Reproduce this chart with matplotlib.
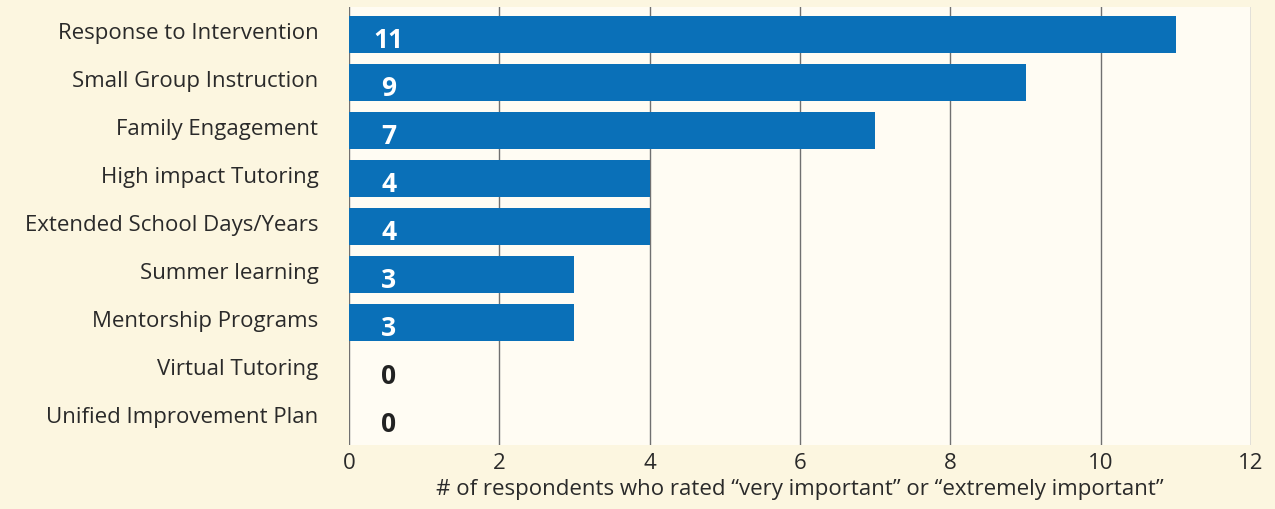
import matplotlib
matplotlib.use("Agg")
import matplotlib.pyplot as plt
import matplotlib.transforms as mtransforms

categories = ["Response to Intervention", "Small Group Instruction", "Family Engagement",
              "High impact Tutoring", "Extended School Days/Years", "Summer learning",
              "Mentorship Programs", "Virtual Tutoring", "Unified Improvement Plan"]
values = [11, 9, 7, 4, 4, 3, 3, 0, 0]
xticks = [0, 2, 4, 6, 8, 10, 12]

plt.rcParams['font.family'] = ['Open Sans', 'DejaVu Sans']

fig = plt.figure(figsize=(12.75, 5.1), dpi=100, facecolor="#fcf6e0")
ax = fig.add_axes([0.2737, 0.1255, 0.9812 - 0.2737, 0.984 - 0.1255])
ax.set_facecolor("#fffcf3")

y = list(range(len(categories)))
ax.barh(y, values, height=0.78, color="#0a70b8", zorder=3)
ax.set_ylim(8.55, -0.57)
ax.set_xlim(0, 12)
ax.set_xticks(xticks)
ax.set_xticklabels([str(t) for t in xticks])
ax.set_yticks(y)
ax.set_yticklabels(categories)
ax.grid(axis="x", color="#707070", linewidth=1.0, zorder=1)
for s in ax.spines.values():
    s.set_visible(False)
ax.tick_params(axis="both", length=0, labelsize=16, labelcolor="#2a2a2a")
ax.tick_params(axis="y", pad=22)
ax.tick_params(axis="x", pad=5)
off = mtransforms.ScaledTranslation(0, 5/100, fig.dpi_scale_trans)
for lab in ax.get_yticklabels():
    lab.set_transform(lab.get_transform() + off)

for yi, v in zip(y, values):
    ax.text(0.53, yi + 0.1, str(v), ha="center", va="center", fontsize=19,
            fontweight="bold", color="white" if v > 0 else "#222222", zorder=4)

ax.set_xlabel("# of respondents who rated \u201cvery important\u201d or \u201cextremely important\u201d",
              fontsize=16, color="#2a2a2a", labelpad=4)

fig.savefig("out.png", dpi=100, facecolor=fig.get_facecolor())
